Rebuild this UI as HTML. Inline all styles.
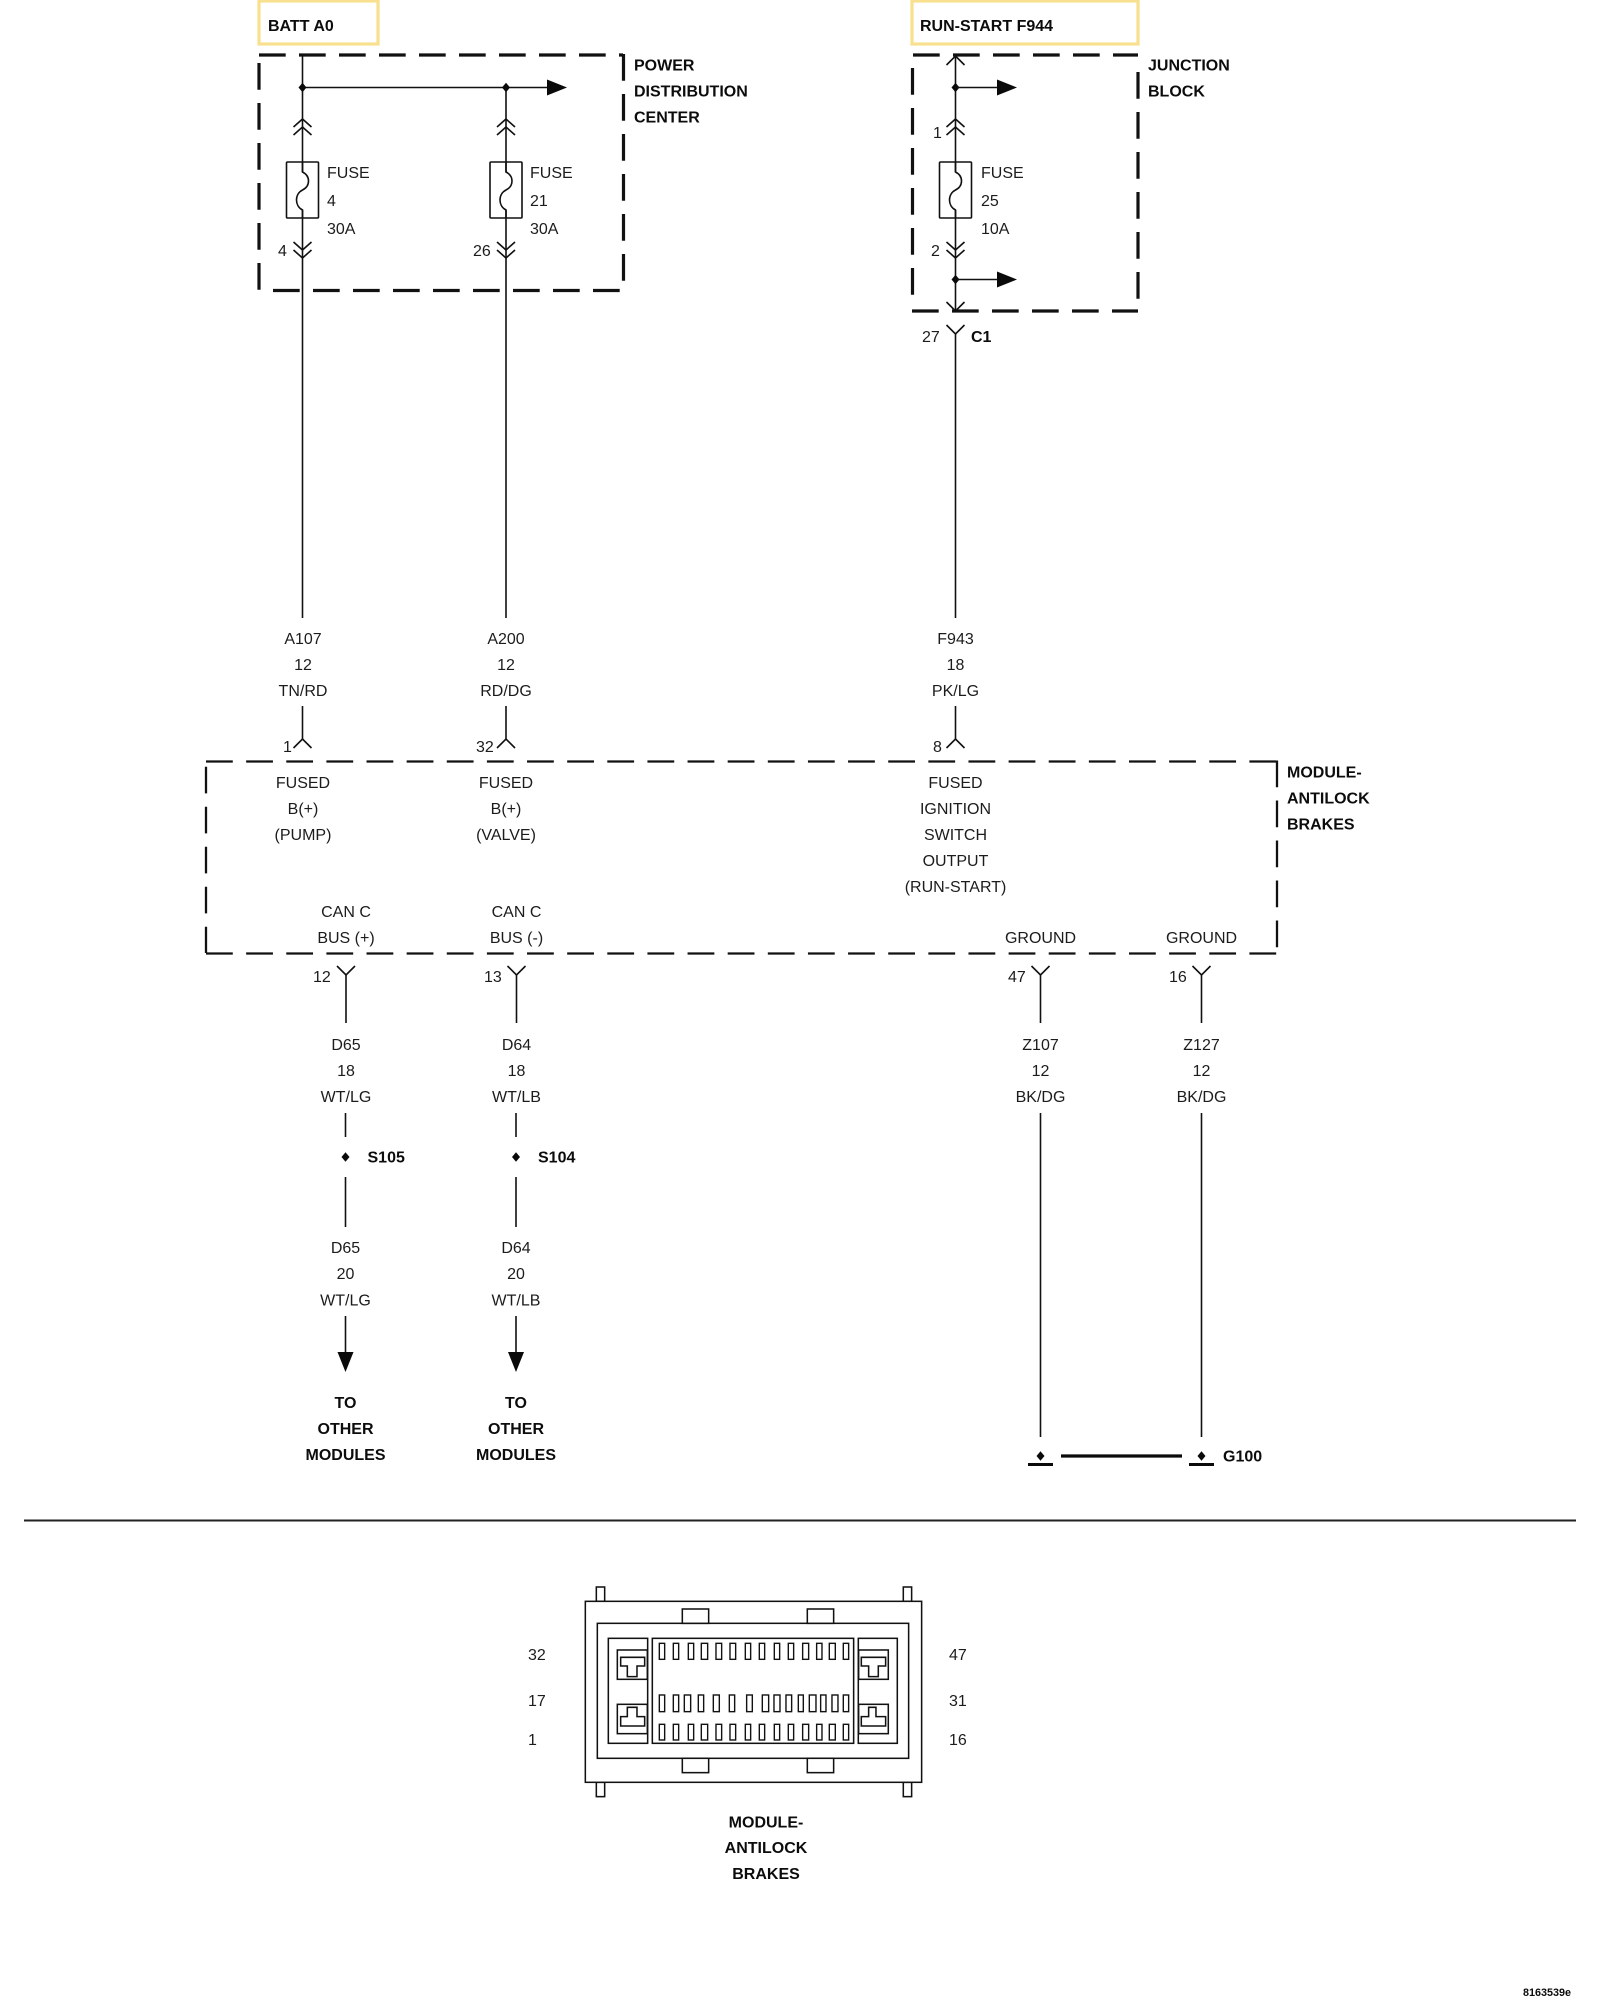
<!DOCTYPE html>
<html><head><meta charset="utf-8"><title>Antilock Brakes Wiring</title>
<style>
html,body{margin:0;padding:0;background:#fff}
svg{display:block}
text{font-family:"Liberation Sans",Arial,sans-serif;font-size:16px;fill:#1c1c1c}
.b{font-weight:bold;fill:#0c0c0c}
.m{text-anchor:middle}
.w{stroke:#111;stroke-width:1.6;fill:none}
.d{stroke:#111;stroke-width:3.2;fill:none;stroke-dasharray:26.7 13.3}
.e{stroke:#111;stroke-width:2.3;fill:none;stroke-dasharray:26.8 13.33}
.f{stroke:#111;stroke-width:2.3;fill:none;stroke-dasharray:26.7 13.3}
.y{fill:#fff;stroke:#f8e08e;stroke-width:3.2}
</style></head><body>
<svg width="1600" height="2000" viewBox="0 0 1600 2000" xmlns="http://www.w3.org/2000/svg">
<defs>
<g id="up" class="w"><polyline points="-9,8 0,0 9,8"/><polyline points="-9,16 0,8 9,16"/></g>
<g id="dn" class="w"><polyline points="-9,-8 0,0 9,-8"/><polyline points="-9,0 0,8 9,0"/></g>
<g id="fuse" class="w"><rect x="-16" y="0" width="32" height="56" rx="1"/><path d="M0 0V10C8 14 8 24 0 28C-8 32 -8 44 0 48V56"/></g>
<polygon id="dot" points="0,-4.8 4,0 0,4.8 -4,0" fill="#0a0a0a"/>
<polygon id="ar" points="0,-8 20,0 0,8" fill="#0a0a0a"/>
<polygon id="ard" points="-8,0 8,0 0,20" fill="#0a0a0a"/>
<polyline id="v" class="w" points="-9,-9 0,0 9,-9"/>
<polyline id="a" class="w" points="-9,9 0,0 9,9"/>
</defs>
<rect width="1600" height="2000" fill="#fff"/>

<!-- source boxes -->
<rect class="y" x="259" y="1" width="119" height="43"/>
<text class="b" x="268" y="31">BATT A0</text>
<rect class="y" x="912" y="1" width="226" height="43"/>
<text class="b" x="920" y="31">RUN-START F944</text>

<!-- PDC -->
<path class="d" d="M259 55H623"/>
<path class="d" d="M623.5 54V290"/>
<path class="d" d="M259 63V291" />
<path class="d" d="M273 290.5H623"/>
<text class="b" x="634" y="70.5">POWER</text>
<text class="b" x="634" y="96.5">DISTRIBUTION</text>
<text class="b" x="634" y="122.5">CENTER</text>
<path class="w" d="M302.5 55V172M302.5 210V618M506 87.5V172M506 210V618"/>
<path class="w" d="M302.5 87.5H548"/>
<use href="#dot" x="302.5" y="87.5"/><use href="#dot" x="506" y="87.5"/>
<use href="#ar" x="547" y="87.5"/>
<use href="#up" x="302.5" y="119"/><use href="#up" x="506" y="119"/>
<use href="#fuse" x="302.5" y="162"/><use href="#fuse" x="506" y="162"/>
<use href="#dn" x="302.5" y="250"/><use href="#dn" x="506" y="250"/>
<text x="327" y="178">FUSE</text><text x="327" y="206">4</text><text x="327" y="234">30A</text>
<text x="530" y="178">FUSE</text><text x="530" y="206">21</text><text x="530" y="234">30A</text>
<text x="278" y="256">4</text><text x="473" y="256">26</text>

<!-- Junction block -->
<path class="d" d="M913 55H1138"/>
<path class="d" d="M912.5 68V300"/>
<path class="d" d="M1138 72V300"/>
<path class="d" d="M912 311H1138"/>
<text class="b" x="1148" y="70.5">JUNCTION</text>
<text class="b" x="1148" y="96.5">BLOCK</text>
<path class="w" d="M955.5 56V172M955.5 210V311M955.5 333V618"/>
<use href="#a" x="955.5" y="56"/>
<use href="#dot" x="955.5" y="87.5"/><path class="w" d="M955.5 87.5H998"/><use href="#ar" x="997" y="87.5"/>
<use href="#up" x="955.5" y="119"/>
<use href="#fuse" x="955.5" y="162"/>
<use href="#dn" x="955.5" y="250"/>
<use href="#dot" x="955.5" y="279.5"/><path class="w" d="M955.5 279.5H998"/><use href="#ar" x="997" y="279.5"/>
<use href="#v" x="955.5" y="311"/>
<use href="#v" x="955.5" y="334"/>
<text x="981" y="178">FUSE</text><text x="981" y="206">25</text><text x="981" y="234">10A</text>
<text x="933" y="138">1</text><text x="931" y="256">2</text>
<text x="922" y="342">27</text><text class="b" x="971" y="342">C1</text>

<!-- upper wire labels -->
<text class="m" x="303" y="644">A107</text><text class="m" x="303" y="670">12</text><text class="m" x="303" y="696">TN/RD</text>
<text class="m" x="506" y="644">A200</text><text class="m" x="506" y="670">12</text><text class="m" x="506" y="696">RD/DG</text>
<text class="m" x="955.5" y="644">F943</text><text class="m" x="955.5" y="670">18</text><text class="m" x="955.5" y="696">PK/LG</text>

<!-- module connectors top -->
<path class="w" d="M302.5 706V739M506 706V739M955.5 706V739"/>
<use href="#a" x="302.5" y="739"/><use href="#a" x="506" y="739"/><use href="#a" x="955.5" y="739"/>
<text x="283" y="752">1</text><text x="476" y="752">32</text><text x="933" y="752">8</text>

<!-- Module box -->
<path class="e" d="M206 761.5H1277"/>
<path class="f" d="M206 766.7V953"/>
<path class="e" d="M206 953.5H1277"/>
<path class="f" d="M1277 760.5V948"/>
<text class="b" x="1287" y="777.5">MODULE-</text>
<text class="b" x="1287" y="803.5">ANTILOCK</text>
<text class="b" x="1287" y="829.5">BRAKES</text>
<text class="m" x="303" y="788">FUSED</text><text class="m" x="303" y="814">B(+)</text><text class="m" x="303" y="840">(PUMP)</text>
<text class="m" x="506" y="788">FUSED</text><text class="m" x="506" y="814">B(+)</text><text class="m" x="506" y="840">(VALVE)</text>
<text class="m" x="955.5" y="788">FUSED</text><text class="m" x="955.5" y="814">IGNITION</text><text class="m" x="955.5" y="840">SWITCH</text><text class="m" x="955.5" y="866">OUTPUT</text><text class="m" x="955.5" y="892">(RUN-START)</text>
<text class="m" x="346" y="917">CAN C</text><text class="m" x="346" y="943">BUS (+)</text>
<text class="m" x="516.5" y="917">CAN C</text><text class="m" x="516.5" y="943">BUS (-)</text>
<text class="m" x="1040.5" y="943">GROUND</text><text class="m" x="1201.5" y="943">GROUND</text>

<!-- bottom connectors -->
<use href="#v" x="346" y="975"/><use href="#v" x="516.5" y="975"/><use href="#v" x="1040.5" y="975"/><use href="#v" x="1201.5" y="975"/>
<path class="w" d="M346 975V1023M516.5 975V1023M1040.5 975V1023M1201.5 975V1023"/>
<text x="313" y="982">12</text><text x="484" y="982">13</text><text x="1008" y="982">47</text><text x="1169" y="982">16</text>

<text class="m" x="346" y="1050">D65</text><text class="m" x="346" y="1076">18</text><text class="m" x="346" y="1102">WT/LG</text>
<text class="m" x="516.5" y="1050">D64</text><text class="m" x="516.5" y="1076">18</text><text class="m" x="516.5" y="1102">WT/LB</text>
<text class="m" x="1040.5" y="1050">Z107</text><text class="m" x="1040.5" y="1076">12</text><text class="m" x="1040.5" y="1102">BK/DG</text>
<text class="m" x="1201.5" y="1050">Z127</text><text class="m" x="1201.5" y="1076">12</text><text class="m" x="1201.5" y="1102">BK/DG</text>

<path class="w" d="M345.5 1113V1137M345.5 1177V1227M345.5 1316V1353M516 1113V1137M516 1177V1227M516 1316V1353"/>
<use href="#dot" x="345.5" y="1157"/><use href="#dot" x="516" y="1157"/>
<text class="b" x="367.5" y="1162.5">S105</text><text class="b" x="538" y="1162.5">S104</text>
<text class="m" x="345.5" y="1253">D65</text><text class="m" x="345.5" y="1279">20</text><text class="m" x="345.5" y="1305.5">WT/LG</text>
<text class="m" x="516" y="1253">D64</text><text class="m" x="516" y="1279">20</text><text class="m" x="516" y="1305.5">WT/LB</text>
<use href="#ard" x="345.5" y="1352"/><use href="#ard" x="516" y="1352"/>
<text class="b m" x="345.5" y="1408">TO</text><text class="b m" x="345.5" y="1434">OTHER</text><text class="b m" x="345.5" y="1460">MODULES</text>
<text class="b m" x="516" y="1408">TO</text><text class="b m" x="516" y="1434">OTHER</text><text class="b m" x="516" y="1460">MODULES</text>

<!-- grounds -->
<path class="w" d="M1040.5 1113V1437M1201.5 1113V1437"/>
<use href="#dot" x="1040.5" y="1456"/><use href="#dot" x="1201.5" y="1456"/>
<path d="M1028 1464.5H1053M1189 1464.5H1214" stroke="#0a0a0a" stroke-width="3" fill="none"/>
<path d="M1061 1456H1182" stroke="#0a0a0a" stroke-width="3.2" fill="none"/>
<text class="b" x="1223" y="1461.5">G100</text>

<path d="M24 1520.5H1576" stroke="#222" stroke-width="2" fill="none"/>

<!-- connector view -->
<g transform="translate(570 1590) scale(.3333)" fill="#fff" stroke="#111" stroke-width="4.6">
<rect x="79" y="-9" width="25" height="43"/><rect x="1000" y="-9" width="25" height="43"/>
<rect x="79" y="577" width="25" height="43"/><rect x="1000" y="577" width="25" height="43"/>
<rect x="46" y="34" width="1009" height="543"/>
<rect x="82" y="100" width="934" height="405"/>
<rect x="337" y="57" width="79" height="43"/><rect x="712" y="57" width="79" height="43"/>
<rect x="337" y="505" width="79" height="43"/><rect x="712" y="505" width="79" height="43"/>
<rect x="115" y="145" width="118" height="315"/>
<rect x="247" y="145" width="604" height="315"/>
<rect x="865" y="145" width="117" height="315"/>
<rect x="142" y="180" width="90" height="88"/><rect x="142" y="343" width="90" height="88"/>
<rect x="866" y="180" width="89" height="88"/><rect x="866" y="343" width="89" height="88"/>
<polygon points="152,202 224,202 224,228 201,228 201,260 172,260 172,228 152,228"/>
<polygon points="172,352 201,352 201,380 224,380 224,408 152,408 152,380 172,380"/>
<polygon points="874,202 947,202 947,228 925,228 925,260 896,260 896,228 874,228"/>
<polygon points="896,352 918,352 918,380 947,380 947,408 874,408 874,380 896,380"/>
<g stroke-width="4.2">
<rect x="268" y="160" width="16" height="48"/><rect x="310" y="160" width="16" height="48"/><rect x="355" y="160" width="16" height="48"/><rect x="394" y="160" width="19" height="48"/><rect x="438" y="160" width="17" height="48"/><rect x="480" y="160" width="17" height="48"/><rect x="526" y="160" width="16" height="48"/><rect x="568" y="160" width="16" height="48"/><rect x="613" y="160" width="16" height="48"/><rect x="655" y="160" width="16" height="48"/><rect x="698" y="160" width="18" height="48"/><rect x="740" y="160" width="16" height="48"/><rect x="778" y="160" width="18" height="48"/><rect x="820" y="160" width="16" height="48"/>
<rect x="268" y="315" width="16" height="50"/><rect x="310" y="315" width="16" height="50"/><rect x="343" y="315" width="19" height="50"/><rect x="385" y="315" width="16" height="50"/><rect x="430" y="315" width="18" height="50"/><rect x="478" y="315" width="16" height="50"/><rect x="530" y="315" width="17" height="50"/><rect x="577" y="315" width="19" height="50"/><rect x="612" y="315" width="18" height="50"/><rect x="648" y="315" width="17" height="50"/><rect x="685" y="315" width="15" height="50"/><rect x="718" y="315" width="20" height="50"/><rect x="752" y="315" width="16" height="50"/><rect x="786" y="315" width="18" height="50"/><rect x="820" y="315" width="16" height="50"/>
<rect x="268" y="403" width="16" height="47"/><rect x="310" y="403" width="16" height="47"/><rect x="355" y="403" width="16" height="47"/><rect x="394" y="403" width="19" height="47"/><rect x="438" y="403" width="17" height="47"/><rect x="480" y="403" width="17" height="47"/><rect x="526" y="403" width="16" height="47"/><rect x="568" y="403" width="16" height="47"/><rect x="613" y="403" width="16" height="47"/><rect x="655" y="403" width="16" height="47"/><rect x="698" y="403" width="18" height="47"/><rect x="740" y="403" width="16" height="47"/><rect x="778" y="403" width="18" height="47"/><rect x="820" y="403" width="16" height="47"/>
</g>
</g>
<text x="528" y="1660">32</text><text x="528" y="1706">17</text><text x="528" y="1745">1</text>
<text x="949" y="1660">47</text><text x="949" y="1706">31</text><text x="949" y="1745">16</text>
<text class="b m" x="766" y="1827.5">MODULE-</text><text class="b m" x="766" y="1853">ANTILOCK</text><text class="b m" x="766" y="1879">BRAKES</text>
<text class="b" x="1523" y="1996" style="font-size:10.8px">8163539e</text>
</svg>
</body></html>
